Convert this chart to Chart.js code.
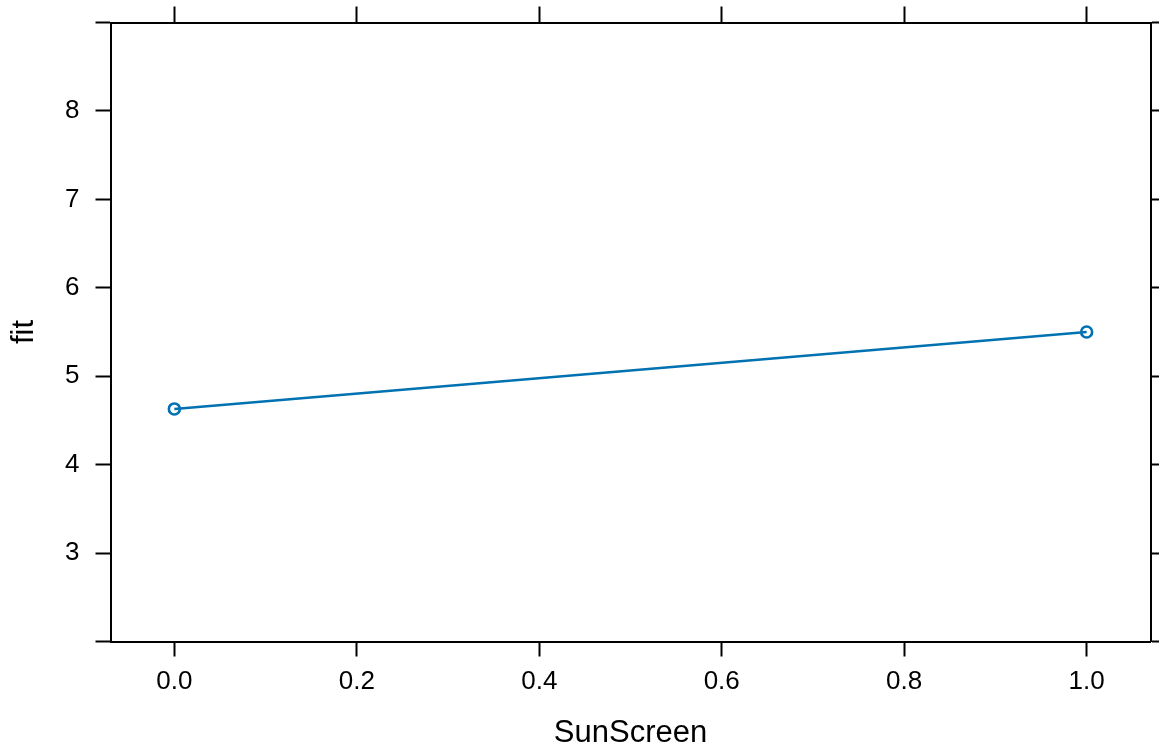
<!DOCTYPE html>
<html>
<head>
<meta charset="utf-8">
<title>fit vs SunScreen</title>
<script src="https://cdn.jsdelivr.net/npm/chart.js@4"></script>
<style>
  html, body { margin: 0; padding: 0; background: #fff; overflow: hidden; }
  canvas { display: block; }
</style>
</head>
<body>
<canvas id="myChart" width="1159" height="753"></canvas>
<script>
// datos
const sunScreen = [0, 1];
const fit = [4.63, 5.50];
const xTicks = [0, 0.2, 0.4, 0.6, 0.8, 1.0];
const yTicks = [2, 3, 4, 5, 6, 7, 8, 9];
const yLabels = [3, 4, 5, 6, 7, 8];

const points = sunScreen.map((x, i) => ({ x: x, y: fit[i] }));
const blue = '#0072B2';
const font = { family: "'Liberation Sans', Arial, sans-serif", size: 26 };
const titleFont = { family: "'Liberation Sans', Arial, sans-serif", size: 31 };

// ejes: mismos rangos arriba/abajo e izquierda/derecha
function axis(pos, min, max, ticks, opts) {
  return Object.assign({
    type: 'linear',
    position: pos,
    min: min,
    max: max,
    afterBuildTicks: s => { s.ticks = ticks.map(v => ({ value: v })); },
    border: { display: true, color: '#000', width: 2 },
    grid: { drawOnChartArea: false, drawTicks: true, tickLength: 15, tickWidth: 2, tickColor: '#000' }
  }, opts);
}

const ctx = document.getElementById('myChart');

new Chart(ctx, {
  type: 'scatter',
  data: {
    datasets: [{
      data: points,
      showLine: true,
      borderColor: blue,
      borderWidth: 2.6,
      tension: 0,
      pointRadius: 5.5,
      pointBorderWidth: 2.6,
      pointBorderColor: blue,
      pointBackgroundColor: 'rgba(0,0,0,0)'
    }]
  },
  options: {
    responsive: false,
    animation: false,
    devicePixelRatio: 1,
    layout: { padding: 0 },
    plugins: { legend: { display: false }, tooltip: { enabled: false } },
    scales: {
      x: axis('bottom', -0.07, 1.07, xTicks, {
        ticks: { color: '#000', font: font, padding: 10, maxRotation: 0, autoSkip: false,
                 callback: v => v.toFixed(1) },
        title: { display: true, text: 'SunScreen', color: '#000', font: titleFont, padding: { top: 0, bottom: 1 } },
        afterFit: s => { s.height = 111.5; s.paddingLeft = 0; s.paddingRight = 0; }
      }),
      x2: axis('top', -0.07, 1.07, xTicks, {
        ticks: { display: false },
        grid: { drawOnChartArea: false, tickLength: 16, tickWidth: 2, tickColor: '#000' },
        afterFit: s => { s.height = 22.5; s.paddingLeft = 0; s.paddingRight = 0; }
      }),
      y: axis('left', 2, 9, yTicks, {
        ticks: { color: '#000', font: font, padding: 16, autoSkip: false,
                 callback: v => yLabels.includes(v) ? String(v) : '' },
        title: { display: true, text: 'fit', color: '#000', font: titleFont, padding: { top: 6, bottom: 0 } },
        afterFit: s => { s.width = 110.5; s.paddingTop = 0; s.paddingBottom = 0; }
      }),
      y2: axis('right', 2, 9, yTicks, {
        ticks: { display: false },
        afterFit: s => { s.width = 8.5; s.paddingTop = 0; s.paddingBottom = 0; }
      })
    }
  }
});
</script>
</body>
</html>
